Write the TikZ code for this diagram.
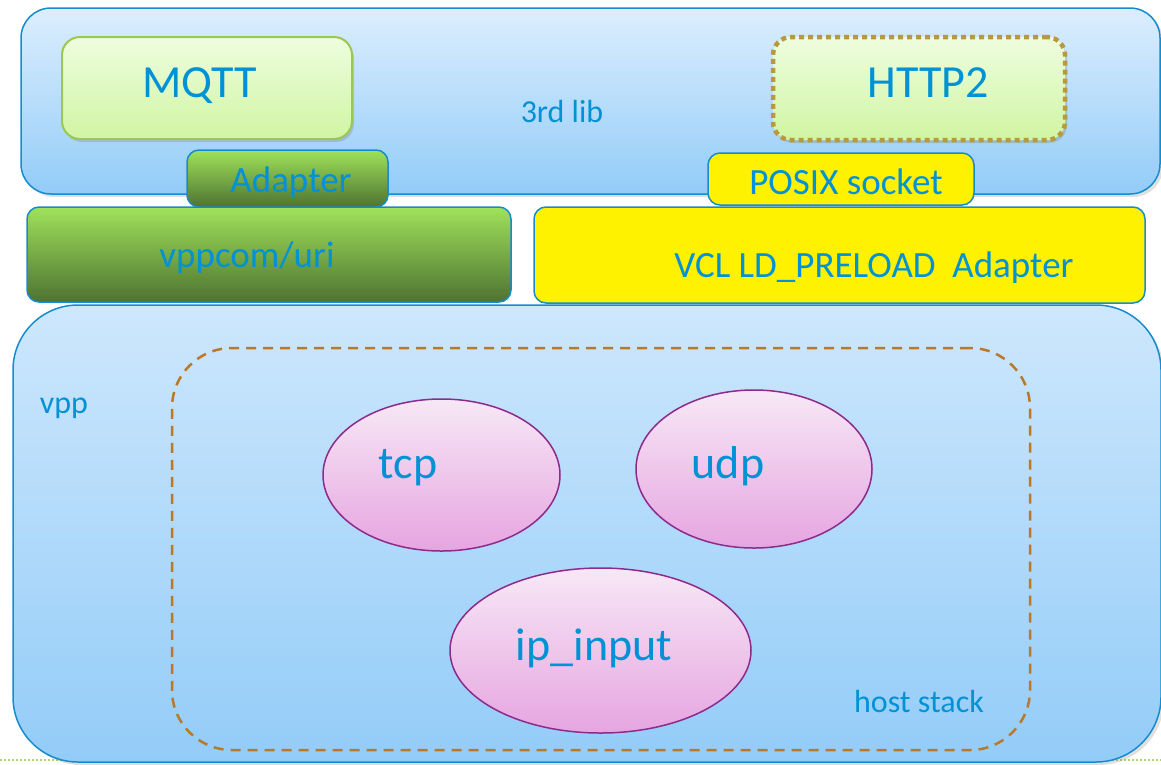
\documentclass[tikz,border=0pt]{standalone}
\usepackage{fontspec}
\setmainfont{Carlito}
\usetikzlibrary{shapes.geometric,shadows}

\definecolor{txtblue}{RGB}{0,146,212}
\definecolor{edgeblue}{RGB}{20,140,206}
\definecolor{skytop}{RGB}{220,238,254}
\definecolor{skybot}{RGB}{147,204,248}
\definecolor{limetop}{RGB}{238,253,223}
\definecolor{limebot}{RGB}{208,245,163}
\definecolor{limeedge}{RGB}{155,200,80}
\definecolor{leaftop}{RGB}{159,226,90}
\definecolor{leafbot}{RGB}{78,115,50}
\definecolor{pinktop}{RGB}{247,232,246}
\definecolor{pinkbot}{RGB}{230,165,224}
\definecolor{plum}{RGB}{142,42,140}
\definecolor{ochre}{RGB}{184,154,58}
\definecolor{rust}{RGB}{184,122,42}

\begin{document}
\begin{tikzpicture}[x=1pt, y=-1pt,
    big/.style={font=\fontsize{46}{50}\selectfont, text=txtblue, anchor=base},
    mid/.style={font=\fontsize{37}{40}\selectfont, text=txtblue, anchor=base},
    small/.style={font=\fontsize{32}{34}\selectfont, text=txtblue, anchor=base},
    layer/.style={draw=edgeblue, line width=1.5pt, rounded corners=#1, inner sep=0pt},
    libbox/.style={rounded corners=18pt, inner sep=0pt, top color=limetop, bottom color=limebot,
        drop shadow={shadow xshift=2pt, shadow yshift=-3pt, opacity=0.3}},
    greenbox/.style={layer=12pt, top color=leaftop, bottom color=leafbot},
    yellowbox/.style={layer=12pt, fill=yellow},
    proto/.style={ellipse, draw=plum, line width=1.5pt, inner sep=0pt,
        top color=pinktop, bottom color=pinkbot}]

    \useasboundingbox (0,0) rectangle (1161,764);

    % page footer line
    \draw [limeedge!80, line width=2pt, dash pattern=on 2pt off 2pt] (0,760) -- (1161,760);

    % 3rd lib layer
    \node [layer=30pt, top color=skytop, bottom color=skybot, minimum width=1139pt, minimum height=186pt,
        drop shadow={shadow xshift=3pt, shadow yshift=-3pt, opacity=0.25}] (lib) at (590.5,101) {};
    \node [libbox, draw=limeedge, line width=2pt, minimum width=290pt, minimum height=102pt] (mqtt) at (207,88) {};
    \node [libbox, draw=ochre, line width=4.5pt, dash pattern=on 5pt off 4pt,
        minimum width=292pt, minimum height=103pt] (http) at (919,88.5) {};
    \node [big] (mqtt-lbl) at (200,97) {MQTT};
    \node [big] (http-lbl) at (928,97) {HTTP2};
    \node [small] (lib-lbl) at (562,122) {3rd lib};

    % adapters
    \node [greenbox, minimum width=484pt, minimum height=95pt] (uri) at (269,254.5) {};
    \node [greenbox, minimum width=201pt, minimum height=57pt] (adapt) at (287.5,178.5) {};
    \node [yellowbox, minimum width=611pt, minimum height=96pt] (vcl) at (839.5,255) {};
    \node [yellowbox, minimum width=266pt, minimum height=52pt] (posix) at (841,179) {};
    \node [mid] (adapt-lbl) at (291,192) {Adapter};
    \node [mid] (posix-lbl) at (846,194) {POSIX socket};
    \node [mid] (uri-lbl) at (247,267) {vppcom/uri};
    \node [mid] (vcl-lbl) at (874,277) {VCL LD\_PRELOAD\ \ Adapter};

    % vpp
    \node [layer=65pt, top color=skytop!80!skybot, bottom color=skybot, minimum width=1148pt, minimum height=457pt,
        drop shadow={shadow xshift=3pt, shadow yshift=-3pt, opacity=0.25}] (vpp) at (587,533.5) {};
    \node [small] (vpp-lbl) at (64,413) {vpp};
    \node [draw=rust, line width=2.5pt, dash pattern=on 10pt off 7pt, rounded corners=60pt, inner sep=0pt,
        minimum width=858pt, minimum height=402pt] (host) at (601,549) {};
    \node [small] (host-lbl) at (919,712) {host stack};

    \node [proto, minimum width=237pt, minimum height=152pt] (tcp) at (441.5,475) {};
    \node [proto, minimum width=236pt, minimum height=158pt] (udp) at (754,469) {};
    \node [proto, minimum width=301pt, minimum height=165pt] (ip) at (600.5,650.5) {};
    \node [big] (tcp-lbl) at (408,478) {tcp};
    \node [big] (udp-lbl) at (728,478) {udp};
    \node [big] (ip-lbl) at (594,660) {ip\_input};
\end{tikzpicture}
\end{document}
